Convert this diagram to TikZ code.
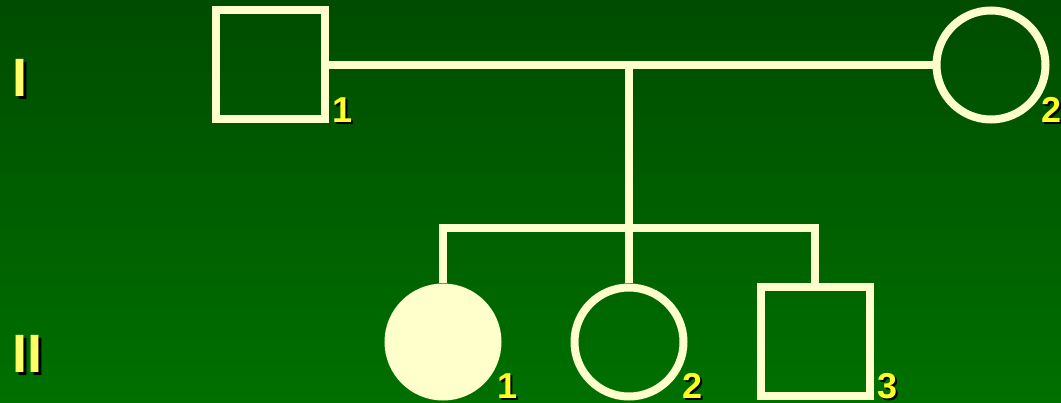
\documentclass[tikz,border=0pt]{standalone}
\usepackage{fontspec}
\setmainfont{Liberation Sans}
\usetikzlibrary{positioning}
\definecolor{bgtop}{RGB}{0,76,0}
\definecolor{bgbottom}{RGB}{0,112,0}
\definecolor{linecream}{RGB}{255,255,204}
\definecolor{numyellow}{RGB}{255,255,40}
\definecolor{genyellow}{RGB}{255,255,102}
\newcommand{\shadowed}[2]{\makebox[0pt][l]{\hspace{#1}\raisebox{-#1}{\color{black}#2}}#2}

\begin{document}
\begin{tikzpicture}[x=1pt, y=-1pt,
        male/.style={rectangle, draw=linecream, line width=8pt, minimum size=109pt, inner sep=0pt},
        female/.style={circle, draw=linecream, line width=8pt, minimum size=109pt, inner sep=0pt},
        affected/.style={fill=linecream},
        link/.style={draw=linecream, line width=8pt, line join=miter},
        num/.style={font=\bfseries\fontsize{36}{36}\selectfont, text=numyellow, inner sep=0pt, anchor=base west},
        gen/.style={font=\bfseries\fontsize{54}{54}\selectfont, text=genyellow, inner sep=0pt, anchor=base west}
    ]

    % Background
    \shade[top color=bgtop, bottom color=bgbottom] (0,0) rectangle (1061,403);
    \useasboundingbox (0,0) rectangle (1061,403);

    % Generation I
    \node[male] (m1) at (270,65) {};
    \node[female] (f2) at (991,65) {};

    % Generation II
    \node[female, affected] (d1) at (443,342) {};
    \node[female] (d2) at (629,342) {};
    \node[male] (s3) at (815,342) {};

    % Junctions
    \coordinate (mate) at (629,65);
    \coordinate (sib) at (629,228);

    % Lines of descent
    \draw[link] (m1.east) -- (f2.west);
    \draw[link] (mate) -- (sib);
    \draw[link] (d1.north) |- (s3.north |- sib) -- (s3.north);
    \draw[link] (d2.north) -- (d2.north |- sib);

    % Numbers
    \node[num] (n1) at (332,123) {\shadowed{2pt}{1}};
    \node[num] (n2) at (1041,123) {\shadowed{2pt}{2}};
    \node[num] (n3) at (497,399) {\shadowed{2pt}{1}};
    \node[num] (n4) at (682,399) {\shadowed{2pt}{2}};
    \node[num] (n5) at (877,399) {\shadowed{2pt}{3}};

    % Generations
    \node[gen] (g1) at (12,97) {\shadowed{3pt}{I}};
    \node[gen] (g2) at (12,373) {\shadowed{3pt}{II}};

\end{tikzpicture}
\end{document}
